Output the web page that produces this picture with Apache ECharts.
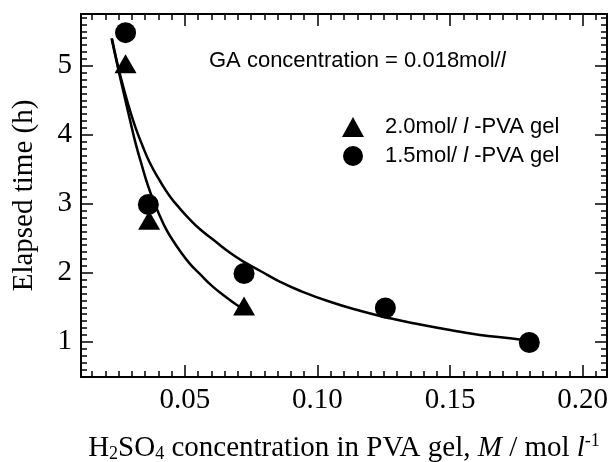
<!DOCTYPE html>
<html>
<head>
<meta charset="utf-8">
<script src="https://cdn.jsdelivr.net/npm/echarts@6/dist/echarts.min.js"></script>
<style>
  html, body { margin: 0; padding: 0; background: #fff; }
  #chart { width: 611px; height: 462px; }
</style>
</head>
<body>
<div id="chart"></div>
<script>
// measured points
const triX = [0.0276, 0.0365, 0.0723];
const triY = [5.03, 2.76, 1.52];
const cirX = [0.0276, 0.0362, 0.0723, 0.1256, 0.1799];
const cirY = [5.48, 2.99, 1.99, 1.49, 0.99];

// fitted curves
const triFitX = [0.0223, 0.0247, 0.0270, 0.0293, 0.0315, 0.0338, 0.0360, 0.0383, 0.0406, 0.0428, 0.0451, 0.0481, 0.0519, 0.0557, 0.0602, 0.0647, 0.0693, 0.0723];
const triFitY = [5.40, 4.98, 4.59, 4.21, 3.86, 3.55, 3.27, 3.03, 2.82, 2.64, 2.49, 2.32, 2.13, 1.98, 1.81, 1.67, 1.54, 1.47];
const cirFitX = [0.0225, 0.0247, 0.0270, 0.0293, 0.0315, 0.0338, 0.0368, 0.0406, 0.0443, 0.0481, 0.0519, 0.0557, 0.0613, 0.0670, 0.0726, 0.0783, 0.0859, 0.0934,
  0.1047, 0.1160, 0.1274, 0.1387, 0.1500, 0.1613, 0.1726, 0.1798];
const cirFitY = [5.39, 5.00, 4.66, 4.35, 4.09, 3.86, 3.59, 3.33, 3.11, 2.93, 2.77, 2.63, 2.46, 2.29, 2.15, 2.03, 1.87, 1.74,
  1.58, 1.45, 1.34, 1.25, 1.17, 1.10, 1.05, 1.01];

// ticks
const xMajor = [0.05, 0.10, 0.15, 0.20];
const xMinor = [0.015, 0.02, 0.025, 0.03, 0.035, 0.04, 0.045, 0.05, 0.055, 0.06, 0.065, 0.07, 0.075, 0.08, 0.085, 0.09, 0.095, 0.10,
  0.105, 0.11, 0.115, 0.12, 0.125, 0.13, 0.135, 0.14, 0.145, 0.15, 0.155, 0.16, 0.165, 0.17, 0.175, 0.18, 0.185, 0.19, 0.195, 0.20, 0.205];
const yMajor = [1, 2, 3, 4, 5];
const yMinor = [0.6, 0.7, 0.8, 0.9, 1.0, 1.1, 1.2, 1.3, 1.4, 1.5, 1.6, 1.7, 1.8, 1.9, 2.0, 2.1, 2.2, 2.3, 2.4, 2.5, 2.6, 2.7, 2.8, 2.9,
  3.0, 3.1, 3.2, 3.3, 3.4, 3.5, 3.6, 3.7, 3.8, 3.9, 4.0, 4.1, 4.2, 4.3, 4.4, 4.5, 4.6, 4.7, 4.8, 4.9, 5.0, 5.1, 5.2, 5.3, 5.4, 5.5, 5.6, 5.7];

const seriesNames = ['2.0mol/ l -PVA gel', '1.5mol/ l -PVA gel'];

const X_MIN = 0.0108, X_MAX = 0.2092;
const Y_MIN = 0.49, Y_MAX = 5.75;
const SERIF = 'Liberation Serif';
const SANS = 'Liberation Sans';

function zip(xs, ys) {
    return xs.map((x, i) => [x, ys[i]]);
}

function xAxisDef(position, ticks, len, withLine, withLabel) {
    let ax = {
        type: 'value',
        min: X_MIN,
        max: X_MAX,
        position: position,
        axisLine: { show: withLine, onZero: false, lineStyle: { color: '#000', width: 2 } },
        axisTick: { show: true, inside: true, length: len, customValues: ticks, lineStyle: { color: '#000', width: 1.5 } },
        axisLabel: { show: false },
        splitLine: { show: false }
    };
    if (withLabel) {
        ax.axisLabel = {
            show: true,
            customValues: xMajor,
            formatter: v => v.toFixed(2),
            fontFamily: SERIF,
            fontSize: 29,
            color: '#000',
            margin: 9
        };
        ax.name = 'H{sub|2}SO{sub|4} concentration in PVA gel, {i|M} / mol {i|l}{sup|-1}';
        ax.nameLocation = 'middle';
        ax.nameGap = 55;
        ax.nameTextStyle = {
            fontFamily: SERIF, fontSize: 29, color: '#000',
            rich: {
                sub: { fontFamily: SERIF, fontSize: 18, color: '#000', padding: [12, 0, 0, 0] },
                sup: { fontFamily: SERIF, fontSize: 18, color: '#000', padding: [0, 0, 14, 0] },
                i: { fontFamily: SERIF, fontSize: 29, color: '#000', fontStyle: 'italic' }
            }
        };
    }
    return ax;
}

function yAxisDef(position, ticks, len, withLine, withLabel) {
    let ax = {
        type: 'value',
        min: Y_MIN,
        max: Y_MAX,
        position: position,
        axisLine: { show: withLine, onZero: false, lineStyle: { color: '#000', width: 2 } },
        axisTick: { show: true, inside: true, length: len, customValues: ticks, lineStyle: { color: '#000', width: 1.5 } },
        axisLabel: { show: false },
        splitLine: { show: false }
    };
    if (withLabel) {
        ax.axisLabel = {
            show: true,
            customValues: yMajor,
            formatter: v => String(Math.round(v)),
            fontFamily: SERIF,
            fontSize: 29,
            color: '#000',
            margin: 9
        };
        ax.name = 'Elapsed time (h)';
        ax.nameLocation = 'middle';
        ax.nameGap = 42;
        ax.nameTextStyle = { fontFamily: SERIF, fontSize: 29, color: '#000' };
    }
    return ax;
}

let chart = echarts.init(document.getElementById('chart'));
let option = {
    animation: false,
    backgroundColor: '#fff',
    grid: { left: 81, right: 4, top: 14, bottom: 85, containLabel: false, outerBoundsMode: 'none' },
    xAxis: [
        xAxisDef('bottom', xMajor, 12, true, true),
        xAxisDef('bottom', xMinor, 6, false, false),
        xAxisDef('top', xMajor, 12, true, false),
        xAxisDef('top', xMinor, 6, false, false)
    ],
    yAxis: [
        yAxisDef('left', yMajor, 12, true, true),
        yAxisDef('left', yMinor, 6, false, false),
        yAxisDef('right', yMajor, 12, true, false),
        yAxisDef('right', yMinor, 6, false, false)
    ],
    legend: {
        orient: 'vertical',
        left: 342,
        top: 116,
        padding: 0,
        itemWidth: 22,
        itemHeight: 20,
        itemGap: 7,
        data: seriesNames,
        formatter: name => name.replace(' l ', ' {i|l} '),
        textStyle: {
            fontFamily: SANS, fontSize: 22, color: '#000', lineHeight: 22,
            padding: [0, 0, 0, 16],
            rich: { i: { fontFamily: SANS, fontSize: 22, color: '#000', fontStyle: 'italic' } }
        }
    },
    graphic: [{
        type: 'text',
        left: 209,
        top: 50,
        style: {
            text: 'GA concentration = 0.018mol/{i|l}',
            fontFamily: SANS,
            fontSize: 22,
            fill: '#000',
            rich: { i: { fontFamily: SANS, fontSize: 22, fontStyle: 'italic', fill: '#000' } }
        }
    }],
    series: [
        {
            type: 'line', data: zip(triFitX, triFitY), showSymbol: false, smooth: 0.5,
            lineStyle: { color: '#000', width: 2.5 }, silent: true, z: 2
        },
        {
            type: 'line', data: zip(cirFitX, cirFitY), showSymbol: false, smooth: 0.5,
            lineStyle: { color: '#000', width: 2.5 }, silent: true, z: 2
        },
        {
            name: seriesNames[0], type: 'scatter', data: zip(triX, triY),
            symbol: 'triangle', symbolSize: [22, 19], itemStyle: { color: '#000', opacity: 1 }, z: 5
        },
        {
            name: seriesNames[1], type: 'scatter', data: zip(cirX, cirY),
            symbol: 'circle', symbolSize: 21, itemStyle: { color: '#000', opacity: 1 }, z: 5
        }
    ]
};
chart.setOption(option);
</script>
</body>
</html>
